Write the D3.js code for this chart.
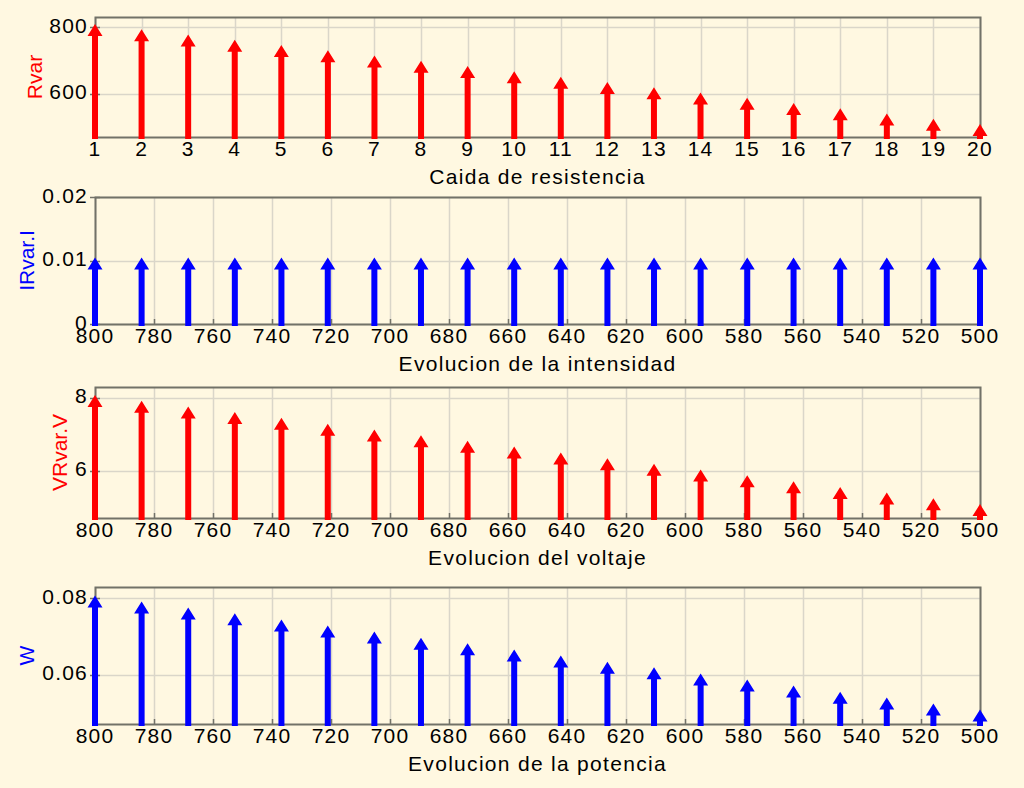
<!DOCTYPE html>
<html><head><meta charset="utf-8">
<script src="https://cdn.jsdelivr.net/npm/d3@7"></script>
<style>
html,body{margin:0;padding:0;background:#FFF8E1;}
svg{display:block;}
text{font-family:"Liberation Sans",Arial,sans-serif;}
</style>
</head><body>
<svg id="chart" width="1024" height="788"></svg>
<script>
// ---- data ----
const caida = [1,2,3,4,5,6,7,8,9,10,11,12,13,14,15,16,17,18,19,20];
const resistencia = [800,784.2,768.4,752.6,736.8,721.1,705.3,689.5,673.7,657.9,642.1,626.3,610.5,594.7,578.9,563.2,547.4,531.6,515.8,500];
const intensidad = [0.01,0.01,0.01,0.01,0.01,0.01,0.01,0.01,0.01,0.01,0.01,0.01,0.01,0.01,0.01,0.01,0.01,0.01,0.01,0.01];
const voltaje = [8,7.84,7.68,7.53,7.37,7.21,7.05,6.89,6.74,6.58,6.42,6.26,6.11,5.95,5.79,5.63,5.47,5.32,5.16,5];
const potencia = [0.08,0.0784,0.0768,0.0753,0.0737,0.0721,0.0705,0.0689,0.0674,0.0658,0.0642,0.0626,0.0611,0.0595,0.0579,0.0563,0.0547,0.0532,0.0516,0.05];

const xTicksCaida = [1,2,3,4,5,6,7,8,9,10,11,12,13,14,15,16,17,18,19,20];
const xTicksR = [800,780,760,740,720,700,680,660,640,620,600,580,560,540,520,500];
const yTicksR = [600,800];
const yTicksI = [0,0.01,0.02];
const yTicksV = [6,8];
const yTicksW = [0.06,0.08];
const yLabelsI = ["0","0.01","0.02"];
const yLabelsW = ["0.06","0.08"];

// ---- layout ----
const svg = d3.select("#chart");
svg.append("rect").attr("width",1024).attr("height",788).attr("fill","#FFF8E1");
const L = 95, R = 980;
const gridCol = "#DAD6C9", frameCol = "#727268";

const panels = [
  {xs: caida, xDomain:[1,20], xTicks:xTicksCaida, xFmt:d=>String(d), vals:resistencia, yDomain:[470,830], yTicks:yTicksR, yFmt:d=>String(d), top:17, bottom:137, yLabel:"Rvar", color:"#FF0000", labX:42, title:"Caida de resistencia"},
  {xs: resistencia, xDomain:[800,500], xTicks:xTicksR, xFmt:d=>String(d), vals:intensidad, yDomain:[0,0.02], yTicks:yTicksI, yFmt:(d,i)=>yLabelsI[i], top:197, bottom:324, yLabel:"IRvar.I", color:"#0000FF", labX:34, title:"Evolucion de la intensidad"},
  {xs: resistencia, xDomain:[800,500], xTicks:xTicksR, xFmt:d=>String(d), vals:voltaje, yDomain:[4.7,8.3], yTicks:yTicksV, yFmt:d=>String(d), top:387, bottom:518, yLabel:"VRvar.V", color:"#FF0000", labX:67, title:"Evolucion del voltaje"},
  {xs: resistencia, xDomain:[800,500], xTicks:xTicksR, xFmt:d=>String(d), vals:potencia, yDomain:[0.047,0.083], yTicks:yTicksW, yFmt:(d,i)=>yLabelsW[i], top:587, bottom:724, yLabel:"W", color:"#0000FF", labX:34, title:"Evolucion de la potencia"}
];

panels.forEach(p => {
  const x = d3.scaleLinear().domain(p.xDomain).range([L,R]);
  const y = d3.scaleLinear().domain(p.yDomain).range([p.bottom,p.top]);
  const g = svg.append("g");

  // grid
  g.selectAll(".vg").data(p.xTicks).enter().append("line")
    .attr("x1",d=>Math.round(x(d))+0.5).attr("x2",d=>Math.round(x(d))+0.5)
    .attr("y1",p.top).attr("y2",p.bottom)
    .attr("stroke",gridCol).attr("stroke-width",1.5);
  g.selectAll(".hg").data(p.yTicks).enter().append("line")
    .attr("x1",L).attr("x2",R)
    .attr("y1",d=>Math.round(y(d))+0.5).attr("y2",d=>Math.round(y(d))+0.5)
    .attr("stroke",gridCol).attr("stroke-width",1.5);

  // frame
  g.append("rect").attr("x",L+0.5).attr("y",p.top+0.5).attr("width",R-L).attr("height",p.bottom-p.top)
    .attr("fill","none").attr("stroke",frameCol).attr("stroke-width",2);

  // tick marks
  g.selectAll(".xt").data(p.xTicks).enter().append("line")
    .attr("x1",d=>Math.round(x(d))+0.5).attr("x2",d=>Math.round(x(d))+0.5)
    .attr("y1",p.bottom-5).attr("y2",p.bottom)
    .attr("stroke",frameCol).attr("stroke-width",1.5);
  g.selectAll(".yt").data(p.yTicks).enter().append("line")
    .attr("x1",L-5).attr("x2",L+5)
    .attr("y1",d=>Math.round(y(d))+0.5).attr("y2",d=>Math.round(y(d))+0.5)
    .attr("stroke",frameCol).attr("stroke-width",1.5);

  // tick labels
  g.selectAll(".xl").data(p.xTicks).enter().append("text")
    .attr("x",d=>x(d)).attr("y",p.bottom+19)
    .attr("text-anchor","middle").attr("font-size",21).attr("letter-spacing","1.2px")
    .attr("fill","#000").text(p.xFmt);
  g.selectAll(".yl").data(p.yTicks).enter().append("text")
    .attr("x",L-7).attr("y",d=>y(d)+5.5)
    .attr("text-anchor","end").attr("font-size",21).attr("letter-spacing","1.2px")
    .attr("fill","#000").text(p.yFmt);

  // axis titles
  g.append("text").attr("x",(L+R)/2).attr("y",p.bottom+47)
    .attr("text-anchor","middle").attr("font-size",21).attr("letter-spacing","1.3px")
    .attr("fill","#000").text(p.title);
  g.append("text")
    .attr("transform",`translate(${p.labX},${(p.top+p.bottom)/2}) rotate(-90)`)
    .attr("text-anchor","middle").attr("font-size",21)
    .attr("fill",p.color).text(p.yLabel);

  // arrows
  const hw = 7.5, hl = 12, sw = 3;
  g.selectAll(".arr").data(p.vals).enter().append("path")
    .attr("fill",p.color)
    .attr("d",(v,i)=>{
      const cx = x(p.xs[i]);
      const tip = y(v)-3;
      const b = p.bottom+2;
      return `M${cx-sw},${b}L${cx-sw},${tip+hl}L${cx-hw},${tip+hl}L${cx},${tip}L${cx+hw},${tip+hl}L${cx+sw},${tip+hl}L${cx+sw},${b}Z`;
    });
});
</script>
</body></html>
